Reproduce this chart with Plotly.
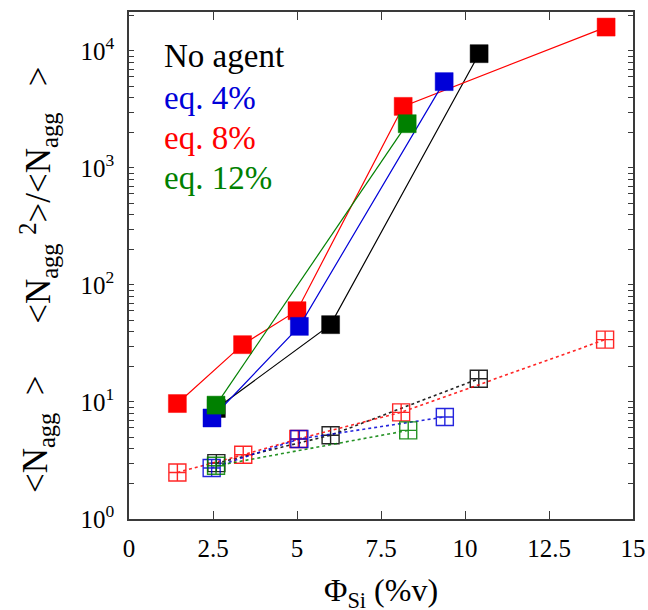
import plotly.graph_objects as go

# Silica volume fraction (%v) for each series
phi_none = [2.6, 6.0, 10.42]
phi_eq4 = [2.47, 5.07, 9.38]
phi_eq8 = [1.44, 3.38, 5.0, 8.16, 14.2]
phi_eq12 = [2.59, 8.28]

# Weight-average aggregation number <N_agg^2>/<N_agg>
nw_none = [8.8, 45.8, 9480]
nw_eq4 = [7.3, 44.3, 5470]
nw_eq8 = [9.7, 30.9, 60.3, 3360, 16000]
nw_eq12 = [9.4, 2390]

# Number-average aggregation number <N_agg>
phi_n_none = [2.6, 6.0, 10.41]
phi_n_eq4 = [2.46, 5.07, 9.40]
phi_n_eq8 = [1.44, 3.40, 5.04, 8.10, 14.17]
phi_n_eq12 = [2.59, 8.31]

nn_none = [3.0, 5.2, 15.8]
nn_eq4 = [2.73, 4.83, 7.45]
nn_eq8 = [2.50, 3.54, 4.83, 8.15, 34.1]
nn_eq12 = [2.85, 5.72]

series_names = ["No agent", "eq. 4%", "eq. 8%", "eq. 12%"]
colors = ["#000000", "#0000d8", "#ff0000", "#008000"]
edge_colors = ["rgba(0,0,0,0.45)", "rgba(0,0,216,0.45)", "rgba(255,0,0,0.45)", "rgba(0,128,0,0.45)"]

x_ticks = [0, 2.5, 5, 7.5, 10, 12.5, 15]
x_ticktext = ["0", "2.5", "5", "7.5", "10", "12.5", "15"]
y_ticks = [1, 10, 100, 1000, 10000]
y_ticktext = ["10<sup>0</sup>", "10<sup>1</sup>", "10<sup>2</sup>", "10<sup>3</sup>", "10<sup>4</sup>"]

FONT = "Liberation Serif"
NB = "\u00a0"

weight_data = {
    "No agent": (phi_none, nw_none),
    "eq. 4%": (phi_eq4, nw_eq4),
    "eq. 8%": (phi_eq8, nw_eq8),
    "eq. 12%": (phi_eq12, nw_eq12),
}
number_data = {
    "No agent": (phi_n_none, nn_none),
    "eq. 4%": (phi_n_eq4, nn_eq4),
    "eq. 8%": (phi_n_eq8, nn_eq8),
    "eq. 12%": (phi_n_eq12, nn_eq12),
}

# drawing order: black, red, blue, green (green ends on top)
order = [0, 2, 1, 3]

fig = go.Figure()

# <N_agg>: open crossed squares joined by dotted lines
for i in order:
    name = series_names[i]
    xs, ys = number_data[name]
    fig.add_trace(go.Scatter(
        x=xs, y=ys, mode="lines+markers", showlegend=False,
        line=dict(color=colors[i], width=1.6, dash="dot"),
        marker=dict(symbol="square-cross-open", size=17,
                    color=colors[i], line=dict(color=colors[i], width=1.4)),
        opacity=0.85,
    ))

# <N_agg^2>/<N_agg>: filled squares joined by solid lines
for i in order:
    name = series_names[i]
    xs, ys = weight_data[name]
    fig.add_trace(go.Scatter(
        x=xs, y=ys, mode="lines+markers", showlegend=False,
        line=dict(color=colors[i], width=1.2),
        marker=dict(symbol="square", size=18, color=colors[i],
                    line=dict(color=edge_colors[i], width=1)),
    ))

axis_common = dict(
    showline=True, linecolor="#3a3a3a", linewidth=1.5, mirror="allticks",
    ticks="inside", tickcolor="#3a3a3a", tickwidth=1.2,
    showgrid=False, zeroline=False, automargin=False,
    tickfont=dict(family=FONT, size=25, color="#000000"),
)

fig.update_xaxes(
    range=[0, 15], tickmode="array", tickvals=x_ticks, ticktext=x_ticktext,
    ticklen=8, ticklabelstandoff=6, **axis_common,
)

minor_vals = [k * 10 ** e for e in range(0, 5) for k in range(2, 10)]
fig.update_yaxes(
    type="log", range=[0, 4.333], tickmode="array", tickvals=y_ticks,
    ticktext=y_ticktext, ticklen=5, ticklabelstandoff=8,
    minor=dict(ticks="inside", ticklen=5, tickcolor="#3a3a3a", tickwidth=1.2,
               tickmode="array", tickvals=minor_vals),
    **axis_common,
)

annotations = []
# series key as coloured text
legend_y = [0.913, 0.830, 0.752, 0.673]
for i, name in enumerate(series_names):
    annotations.append(dict(
        text=name, x=0.066, y=legend_y[i], xref="paper", yref="paper",
        xanchor="left", yanchor="middle", showarrow=False,
        font=dict(family=FONT, size=33, color=colors[i]),
    ))

# x-axis title
annotations.append(dict(
    text="\u03a6<sub>Si</sub> (%v)", x=0.5, y=-0.144, xref="paper", yref="paper",
    xanchor="center", yanchor="middle", showarrow=False,
    font=dict(family=FONT, size=32, color="#000000"),
))
# y-axis titles (rotated)
annotations.append(dict(
    text="&lt;N<sub>agg</sub>" + NB + "<sup>2</sup>&gt;/&lt;N<sub>agg</sub>" + NB * 3 + "&gt;",
    x=-0.18, y=0.638, xref="paper", yref="paper", textangle=-90,
    xanchor="center", yanchor="middle", showarrow=False,
    font=dict(family=FONT, size=35, color="#000000"),
))
annotations.append(dict(
    text="&lt;N<sub>agg</sub>" + NB * 2 + "&gt;",
    x=-0.18, y=0.168, xref="paper", yref="paper", textangle=-90,
    xanchor="center", yanchor="middle", showarrow=False,
    font=dict(family=FONT, size=35, color="#000000"),
))

fig.update_layout(
    width=648, height=610,
    margin=dict(l=129, r=15, t=12, b=91),
    paper_bgcolor="white", plot_bgcolor="white",
    font=dict(family=FONT),
    annotations=annotations,
)

fig.write_html("out.html")
